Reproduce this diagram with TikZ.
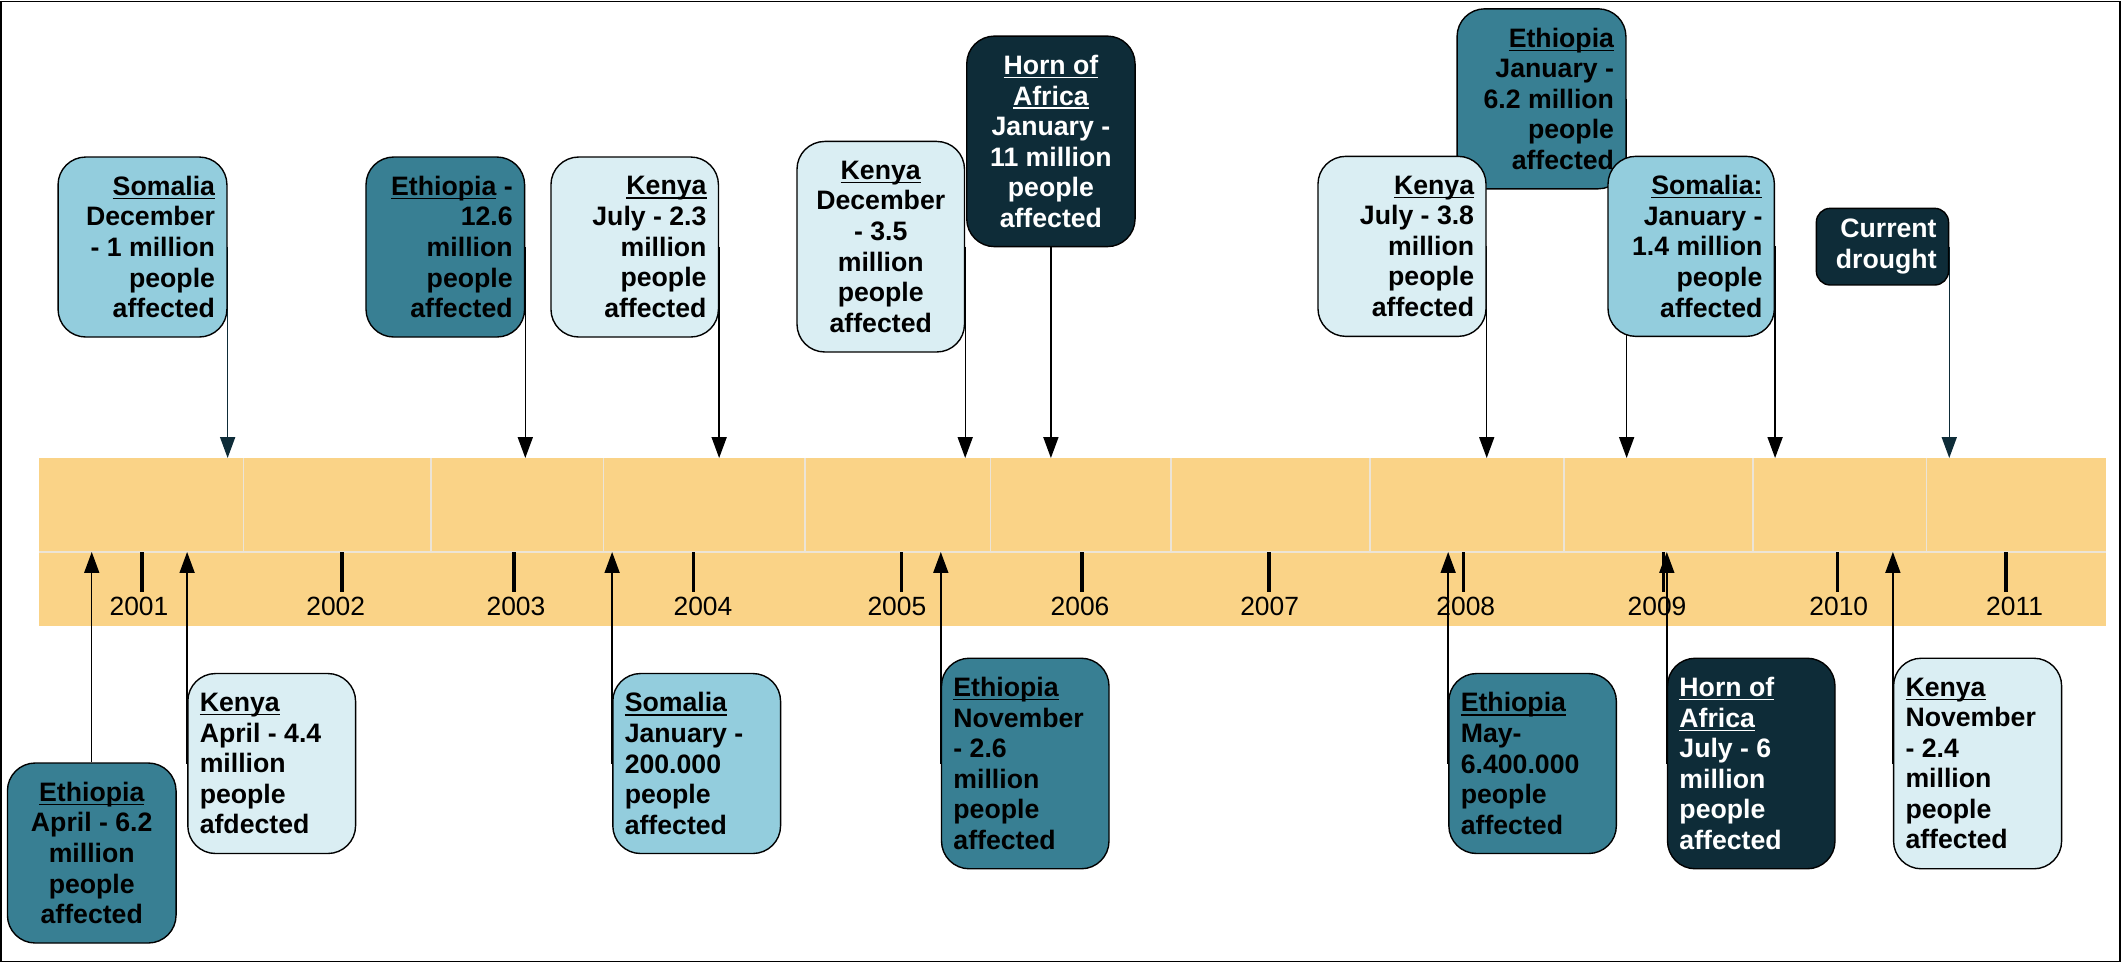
\documentclass[tikz,border=0pt]{standalone}
\usepackage{fontspec}
\setmainfont{Liberation Sans}
\usetikzlibrary{arrows.meta}
\definecolor{cHorn}{RGB}{14,44,56}
\definecolor{cEth}{RGB}{56,127,147}
\definecolor{cSom}{RGB}{147,205,221}
\definecolor{cKen}{RGB}{218,238,243}
\definecolor{cBand}{RGB}{250,211,135}
\definecolor{cSep}{RGB}{236,228,214}
\newcommand\ulw[1]{\leavevmode\setbox0\hbox{#1}\rlap{\rule[-1.3pt]{\wd0}{0.45pt}}\box0\relax}
\pgfdeclarelayer{bg}
\pgfsetlayers{bg,main}
\tikzset{
  evt/.style={draw=black, line width=0.5pt, rounded corners=10pt, inner xsep=4.3pt, inner ysep=0pt,
    font=\bfseries\fontsize{9.6}{11}\selectfont},
  five/.style={minimum height=64.8pt},
  six/.style={minimum height=75.8pt},
  ethb/.style={evt, fill=cEth, text=black},
  somb/.style={evt, fill=cSom, text=black},
  kenb/.style={evt, fill=cKen, text=black},
  hornb/.style={evt, fill=cHorn, text=white},
  arr/.style={line width=0.5pt, draw=black, -{Triangle[length=7.5pt,width=5.4pt]}},
  darr/.style={arr, draw=cHorn},
  sepline/.style={draw=cSep, line width=0.55pt},
  tick/.style={draw=black, line width=1.1pt},
  yr/.style={font=\fontsize{9.5}{11}\selectfont, inner sep=0pt, text=black},
}
\begin{document}
\begin{tikzpicture}[x=0.36pt, y=-0.36pt]
\useasboundingbox (0,0) rectangle (2122,963);
\coordinate (bandtop) at (0,458);
\coordinate (bandmid) at (0,552);
\begin{pgfonlayer}{bg}
  \fill[cBand] (38.8,458) rectangle (2106,626);
  \foreach \x in {243.6,430.8,603.6,805,990.6,1171,1370,1564.2,1752.8,1926.5}
    \draw[sepline] (\x,458) -- (\x,552);
  \draw[sepline] (38.8,552) -- (2106,552);
  \foreach \x in {142,342,514,693.4,901.8,1082,1269,1463.8,1663.4,1837.4,2006}
    \draw[tick] (\x,552) -- (\x,592);
\end{pgfonlayer}

\foreach \x/\t in {139/2001,335.7/2002,516/2003,703/2004,896.9/2005,1080/2006,1269.6/2007,1465.8/2008,1657/2009,1838.8/2010,2014.6/2011}
  \node[yr] (yr\t) at (\x,606) {\t};

% top boxes
\node[somb, five, text width=52.2pt, align=flush right] (som1) at (142.5,247)
  {\ulw{Somalia}\\December\\- 1 million\\people\\affected};
\node[ethb, five, text width=48.5pt, align=flush right] (eth1) at (445.3,247)
  {\ulw{Ethiopia} -\\12.6\\million\\people\\affected};
\node[kenb, five, text width=51.7pt, align=flush right] (ken1) at (634.7,247)
  {\ulw{Kenya}\\July - 2.3\\million\\people\\affected};
\node[kenb, six, text width=51.7pt, align=flush center] (ken2) at (880.75,246.7)
  {\ulw{Kenya}\\December\\- 3.5\\million\\people\\affected};
\node[hornb, six, text width=52pt, align=flush center] (horn1) at (1050.9,141.35)
  {\ulw{Horn of}\\ \ulw{Africa}\\January -\\11 million\\people\\affected};
\node[ethb, five, text width=52.2pt, align=flush right] (eth2) at (1541.5,98.8)
  {\ulw{Ethiopia}\\January -\\6.2 million\\people\\affected};
\node[kenb, five, text width=51.9pt, align=flush right] (ken3) at (1402,246.35)
  {\ulw{Kenya}\\July - 3.8\\million\\people\\affected};
\node[somb, five, text width=51.3pt, align=flush right] (som2) at (1691.2,246.35)
  {\ulw{Somalia:}\\January -\\1.4 million\\people\\affected};
\node[hornb, rounded corners=5pt, minimum height=27.6pt, text width=39pt, align=flush right] (cur) at (1882.45,246.65)
  {Current\\drought};

% bottom boxes
\node[ethb, five, text width=52.1pt, align=flush center] (eth3) at (91.75,853)
  {\ulw{Ethiopia}\\April - 6.2\\million\\people\\affected};
\node[kenb, five, text width=51.8pt, align=flush left] (ken4) at (271.7,763.5)
  {\ulw{Kenya}\\April - 4.4\\million\\people\\afdected};
\node[somb, five, text width=51.8pt, align=flush left] (som3) at (696.7,763.5)
  {\ulw{Somalia}\\January -\\200.000\\people\\affected};
\node[ethb, six, text width=51.7pt, align=flush left] (eth4) at (1025.25,763.5)
  {\ulw{Ethiopia}\\November\\- 2.6\\million\\people\\affected};
\node[ethb, five, text width=51.7pt, align=flush left] (eth5) at (1532.6,763.5)
  {\ulw{Ethiopia}\\May-\\6.400.000\\people\\affected};
\node[hornb, six, text width=51.7pt, align=flush left] (horn2) at (1751.25,763.5)
  {\ulw{Horn of}\\ \ulw{Africa}\\July - 6\\million\\people\\affected};
\node[kenb, six, text width=51.9pt, align=flush left] (ken5) at (1977.6,763.5)
  {\ulw{Kenya}\\November\\- 2.4\\million\\people\\affected};

\begin{pgfonlayer}{bg}
  % down arrows
  \draw[darr] (som1.east) -- (som1.east |- bandtop);
  \draw[arr] (eth1.east) -- (eth1.east |- bandtop);
  \draw[arr] (ken1.east) -- (ken1.east |- bandtop);
  \draw[arr] (ken2.east) -- (ken2.east |- bandtop);
  \draw[arr] (horn1.south) -- (horn1.south |- bandtop);
  \draw[arr] (ken3.east) -- (ken3.east |- bandtop);
  \draw[arr] (eth2.east) -- (eth2.east |- bandtop);
  \draw[arr] (som2.east) -- (som2.east |- bandtop);
  \draw[darr] (cur.east) -- (cur.east |- bandtop);
  % up arrows
  \draw[arr] (eth3.north) -- (eth3.north |- bandmid);
  \draw[arr] (ken4.west) -- (ken4.west |- bandmid);
  \draw[arr] (som3.west) -- (som3.west |- bandmid);
  \draw[arr] (eth4.west) -- (eth4.west |- bandmid);
  \draw[arr] (eth5.west) -- (eth5.west |- bandmid);
  \draw[arr] (horn2.west) -- (horn2.west |- bandmid);
  \draw[arr] (ken5.west) -- (ken5.west |- bandmid);
\end{pgfonlayer}

\draw[line width=0.7pt] (1,1.5) rectangle (2120,961.5);
\end{tikzpicture}
\end{document}
